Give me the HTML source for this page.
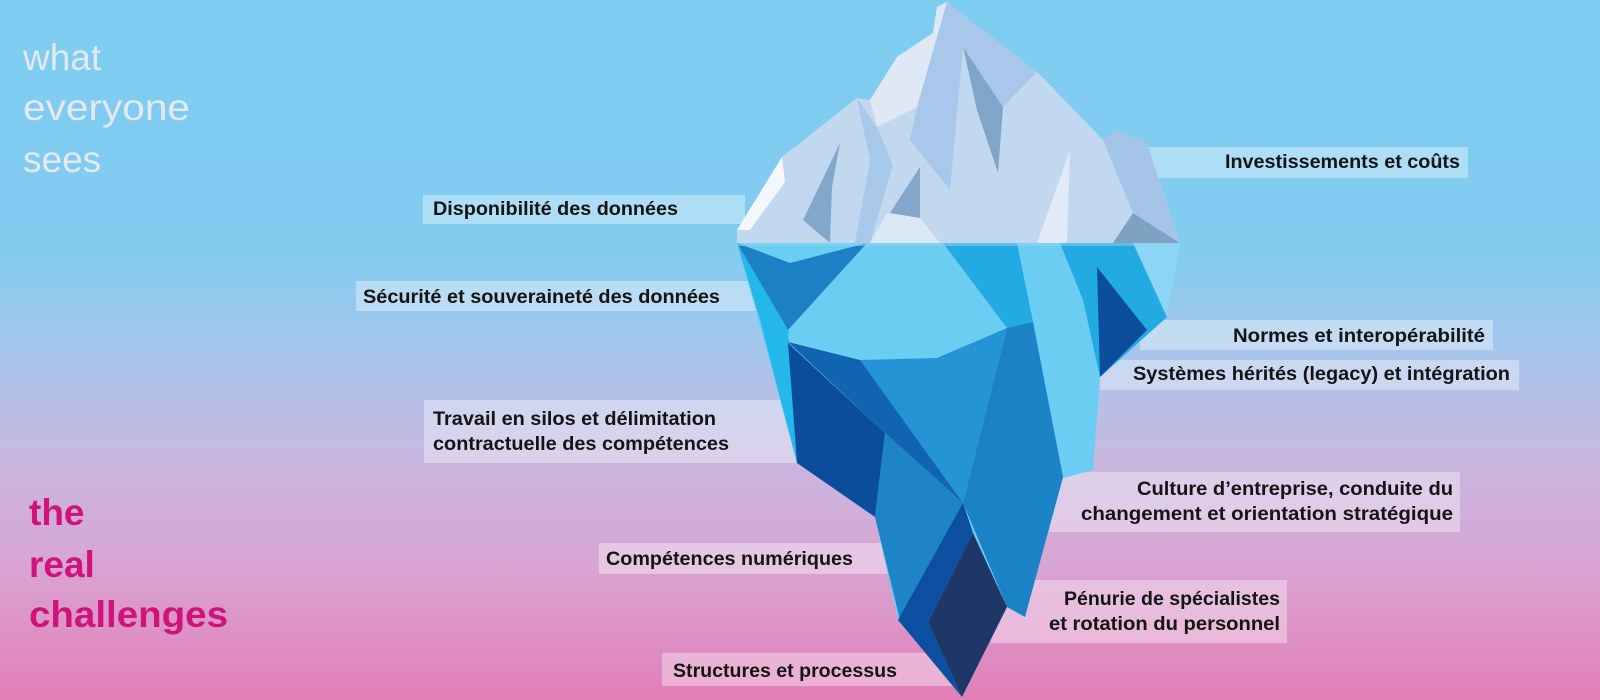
<!DOCTYPE html>
<html><head><meta charset="utf-8"><style>
html,body{margin:0;padding:0;width:1600px;height:700px;overflow:hidden}
svg{display:block}
text{font-family:"Liberation Sans",sans-serif}
.l{font-weight:bold;font-size:19px;fill:#141414}
</style></head><body>
<svg width="1600" height="700" viewBox="0 0 1600 700" xmlns="http://www.w3.org/2000/svg">
<defs>
<linearGradient id="bg" x1="0" y1="0" x2="0" y2="1">
<stop offset="0" stop-color="#7ecdf1"/>
<stop offset="0.36" stop-color="#82ccf0"/>
<stop offset="0.5" stop-color="#a6c6ec"/>
<stop offset="0.64" stop-color="#c5b9e1"/>
<stop offset="0.8" stop-color="#d8a6d4"/>
<stop offset="1" stop-color="#e27fb7"/>
</linearGradient>
</defs>
<rect width="1600" height="700" fill="url(#bg)"/>

<g fill="#ffffff" fill-opacity="0.36">
<rect x="423" y="195" width="322" height="29"/>
<rect x="356" y="281" width="404" height="30"/>
<rect x="424" y="400" width="376" height="63"/>
<rect x="599" y="543" width="291" height="31"/>
<rect x="662" y="653" width="298" height="33"/>
<rect x="1120" y="147" width="348" height="31"/>
<rect x="1140" y="320" width="353" height="30"/>
<rect x="1100" y="360" width="419" height="30"/>
<rect x="1040" y="472" width="420" height="60"/>
<rect x="991" y="580" width="296" height="63"/>
</g>

<!-- iceberg above water -->
<polygon fill="#c2d8ef" points="737,243 737,230 782,157 857,98 870,100 897,57 933,33 937,7 947,2 1037,72 1047,82 1103,140 1117,130 1147,143 1180,243"/>
<polygon fill="#f4f8fc" points="737,230 782,157 785,182 750,230"/>
<polygon fill="#dfe9f6" points="870,100 897,57 933,33 937,7 947,2 917,107 877,127"/>
<polygon fill="#a8c7ea" points="947,2 1037,72 1003,107 963,47 950,190 910,140 917,107"/>
<polygon fill="#a9c9ea" points="857,98 877,127 893,165 870,243 855,243 870,160"/>
<polygon fill="#7fa6c9" points="963,47 1003,107 998,173 977,110"/>
<polygon fill="#82a7cb" points="840,143 803,220 830,243 832,187"/>
<polygon fill="#82a7cb" points="920,167 890,213 920,218"/>
<polygon fill="#dce8f5" points="870,243 887,213 920,218 940,243"/>
<polygon fill="#e0ebf7" points="1037,243 1070,150 1067,243"/>
<polygon fill="#a5c5e8" points="1103,140 1117,130 1147,143 1180,243 1133,213"/>
<polygon fill="#7fa1c2" points="1113,243 1133,213 1180,243"/>

<!-- underwater -->
<polygon fill="#6bcdf2" points="737,243 1180,243 1167,317 1100,377 1093,470 1063,478 1025,617 1007,607 962,697 898,620 875,517 797,463 753,300"/>
<polygon fill="#24b8ea" points="737,243 788,330 797,463 760,320"/>
<polygon fill="#1c80c4" points="737,243 790,263 867,243 788,330"/>
<polygon fill="#22aae2" points="943,243 1017,243 1033,322 1007,328"/>
<polygon fill="#22aae2" points="1060,243 1133,243 1167,317 1100,377 1083,300"/>
<polygon fill="#8ad6f4" points="1133,243 1180,243 1167,317"/>
<polygon fill="#0c4e9c" points="1097,267 1147,330 1100,377"/>
<polygon fill="#2494d4" points="860,360 937,358 1007,328 963,503"/>
<polygon fill="#1b82c5" points="1007,328 1033,322 1063,477 1025,617 1007,607 963,503"/>
<polygon fill="#1064b0" points="788,342 860,360 963,503 885,433"/>
<polygon fill="#0b4d9b" points="788,343 885,433 875,517 797,463"/>
<polygon fill="#1e84c6" points="885,433 963,503 973,533 900,620 875,517"/>
<polygon fill="#0c4fa0" points="963,503 973,533 928,622 962,697 898,620"/>
<polygon fill="#1e3766" points="973,533 1007,607 962,697 928,622"/>
<rect x="737" y="243" width="443" height="3" fill="#8fd8f5" fill-opacity="0.5"/>

<!-- headings -->
<g font-size="37" fill="#e4e8f0" font-family="Liberation Sans, sans-serif">
<text x="23" y="70">what</text>
<text x="23" y="120" textLength="167" lengthAdjust="spacingAndGlyphs">everyone</text>
<text x="23" y="172">sees</text>
</g>
<g font-size="37" fill="#d0137a" font-weight="bold" font-family="Liberation Sans, sans-serif">
<text x="29" y="525">the</text>
<text x="29" y="577">real</text>
<text x="29" y="627" textLength="199" lengthAdjust="spacingAndGlyphs">challenges</text>
</g>

<!-- labels -->
<text class="l" x="433" y="215" textLength="245" lengthAdjust="spacingAndGlyphs">Disponibilité des données</text>
<text class="l" x="363" y="303" textLength="357" lengthAdjust="spacingAndGlyphs">Sécurité et souveraineté des données</text>
<text class="l" x="433" y="425" textLength="283" lengthAdjust="spacingAndGlyphs">Travail en silos et délimitation</text>
<text class="l" x="433" y="450" textLength="296" lengthAdjust="spacingAndGlyphs">contractuelle des compétences</text>
<text class="l" x="606" y="565" textLength="247" lengthAdjust="spacingAndGlyphs">Compétences numériques</text>
<text class="l" x="673" y="677" textLength="224" lengthAdjust="spacingAndGlyphs">Structures et processus</text>
<text class="l" x="1225" y="168" textLength="235" lengthAdjust="spacingAndGlyphs">Investissements et coûts</text>
<text class="l" x="1233" y="342" textLength="252" lengthAdjust="spacingAndGlyphs">Normes et interopérabilité</text>
<text class="l" x="1133" y="380" textLength="377" lengthAdjust="spacingAndGlyphs">Systèmes hérités (legacy) et intégration</text>
<text class="l" x="1137" y="495" textLength="316" lengthAdjust="spacingAndGlyphs">Culture d’entreprise, conduite du</text>
<text class="l" x="1081" y="520" textLength="372" lengthAdjust="spacingAndGlyphs">changement et orientation stratégique</text>
<text class="l" x="1064" y="605" textLength="216" lengthAdjust="spacingAndGlyphs">Pénurie de spécialistes</text>
<text class="l" x="1049" y="630" textLength="231" lengthAdjust="spacingAndGlyphs">et rotation du personnel</text>
</svg>
</body></html>
